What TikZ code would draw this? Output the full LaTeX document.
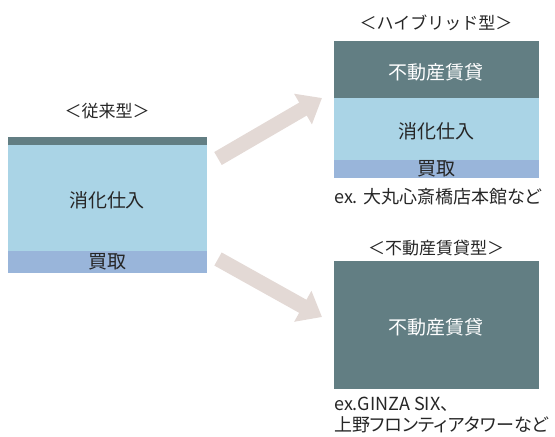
\documentclass[tikz,border=0pt]{standalone}
\usepackage{fontspec}
\setmainfont{Noto Sans CJK JP}
\newfontfamily\pfont[RawFeature=+palt]{Noto Sans CJK JP}
\usetikzlibrary{arrows.meta}
\definecolor{darkteal}{HTML}{627E83}
\definecolor{lightblue}{HTML}{AAD4E6}
\definecolor{buyblue}{HTML}{99B5DA}
\definecolor{arrowc}{HTML}{E3D9D5}
\definecolor{txt}{HTML}{262626}
\tikzset{
  lbl/.style={text=txt, font=\fontsize{19}{21}\selectfont, inner sep=0pt},
  wlbl/.style={text=white, font=\fontsize{19}{21}\selectfont, inner sep=0pt},
  ttl/.style={text=txt, font=\fontsize{17}{19}\selectfont, inner sep=0pt},
  exl/.style={text=txt, font=\pfont\fontsize{18}{20}\selectfont, inner sep=0pt, anchor=west},
  fatarrow/.style={draw=arrowc, line width=15pt, line cap=butt, -{Triangle[width=34pt,length=22pt]}}
}
\begin{document}
\begin{tikzpicture}[x=1pt,y=-1pt]
\useasboundingbox (0,0) rectangle (555,437);
% left box
\fill[darkteal] (8,137) rectangle (207,145);
\fill[lightblue] (8,145) rectangle (207,251);
\fill[buyblue] (8,251) rectangle (207,273);
\node[ttl] (t1) at (107,111) {＜従来型＞};
\node[lbl] (l1) at (107,200) {消化仕入};
\node[lbl] (l2) at (107,262) {買取};
% hybrid box
\fill[darkteal] (334,41) rectangle (539,98);
\fill[lightblue] (334,98) rectangle (539,160);
\fill[buyblue] (334,160) rectangle (539,178);
\node[ttl] (t2) at (436,23) {＜ハイブリッド型＞};
\node[wlbl] (h1) at (436,72) {不動産賃貸};
\node[lbl] (h2) at (436,131) {消化仕入};
\node[lbl] (h3) at (436,169) {買取};
\node[exl] (e1) at (334,197) {ex. 大丸心斎橋店本館など};
% rental box
\fill[darkteal] (334,261) rectangle (539,389);
\node[ttl] (t3) at (436,248) {＜不動産賃貸型＞};
\node[wlbl] (r1) at (436,327) {不動産賃貸};
\node[exl] (e2) at (334,404) {ex.GINZA SIX、};
\node[exl] (e3) at (334,425) {上野フロンティアタワーなど};
% arrows
\coordinate (a1s) at (218,158.5);
\coordinate (a1e) at (322,98);
\coordinate (a2s) at (218,259);
\coordinate (a2e) at (322,317);
\draw[fatarrow] (a1s) -- (a1e);
\draw[fatarrow] (a2s) -- (a2e);
\end{tikzpicture}
\end{document}
